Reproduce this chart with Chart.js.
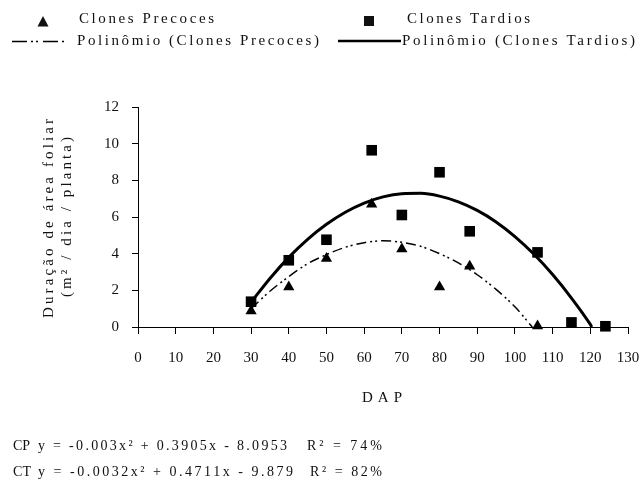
<!DOCTYPE html>
<html>
<head>
<meta charset="utf-8">
<script src="https://cdn.jsdelivr.net/npm/chart.js@4"></script>
<style>
  body { margin: 0; background: #fff; }
  canvas { display: block; }
</style>
</head>
<body>
<canvas id="daf" width="640" height="485"></canvas>
<script>
// Observed points (DAP, duração de área foliar)
const dapPrecoces = [30, 40, 50, 62, 70, 80, 88, 106];
const dafPrecoces = [0.87, 2.18, 3.73, 6.69, 4.25, 2.18, 3.31, 0.05];
const dapTardios = [30, 40, 50, 62, 70, 80, 88, 106, 115, 124];
const dafTardios = [1.38, 3.64, 4.76, 9.64, 6.11, 8.44, 5.22, 4.07, 0.25, 0.04];

// Trend curves
const curveCpX = [30, 35, 40, 45, 50, 55, 60, 65, 70, 75, 80, 85, 90, 95, 100, 104.6];
const curveCpY = [1.0, 1.95, 2.75, 3.45, 3.95, 4.35, 4.6, 4.7, 4.62, 4.4, 4.0, 3.5, 2.85, 2.05, 1.1, 0];
const curveCtX = [30, 35, 40, 45, 50, 55, 60, 65, 70, 75, 80, 85, 90, 95, 100, 105, 110, 115, 120, 120.4];
const curveCtY = [1.35, 2.65, 3.8, 4.78, 5.6, 6.26, 6.76, 7.1, 7.27, 7.29, 7.14, 6.83, 6.36, 5.73, 4.93, 3.98, 2.86, 1.58, 0.14, 0];

const xTicks = { min: 0, max: 130, step: 10 };
const yTicks = { min: 0, max: 12, step: 2 };

const FONT = '"Liberation Serif", "Times New Roman", serif';

function toPoints(xs, ys) {
  return xs.map((x, i) => ({ x: x, y: ys[i] }));
}

// draw text stretched between x1 and x2 (the old bitmap font is widely spaced)
function spreadText(ctx, text, x1, x2, y, size) {
  ctx.font = size + 'px ' + FONT;
  ctx.letterSpacing = '0px';
  const w = ctx.measureText(text).width;
  const n = Array.from(text).length;
  const ls = n > 1 ? (x2 - x1 - w) / (n - 1) : 0;
  ctx.letterSpacing = ls + 'px';
  ctx.textAlign = 'left';
  ctx.textBaseline = 'middle';
  ctx.fillText(text, x1, y);
  ctx.letterSpacing = '0px';
}

function spreadTextUp(ctx, text, cx, yTop, yBottom, size) {
  ctx.save();
  ctx.translate(cx, (yTop + yBottom) / 2);
  ctx.rotate(-Math.PI / 2);
  const half = (yBottom - yTop) / 2;
  spreadText(ctx, text, -half, half, 0, size);
  ctx.restore();
}

const textPlugin = {
  id: 'textPlugin',
  afterDraw(chart) {
    const ctx = chart.ctx;
    ctx.save();
    ctx.fillStyle = '#111';
    ctx.strokeStyle = '#000';

    // legend row 1
    ctx.beginPath();
    ctx.moveTo(43, 16);
    ctx.lineTo(48.5, 26.5);
    ctx.lineTo(37.5, 26.5);
    ctx.closePath();
    ctx.fill();
    spreadText(ctx, 'Clones Precoces', 79, 214, 19, 15);
    ctx.fillRect(364, 16, 10, 10);
    spreadText(ctx, 'Clones Tardios', 407, 530, 19, 15);

    // legend row 2
    ctx.lineWidth = 1.5;
    ctx.setLineDash([15, 4, 2, 3, 2, 5]);
    ctx.beginPath();
    ctx.moveTo(12, 41.5);
    ctx.lineTo(64, 41.5);
    ctx.stroke();
    ctx.setLineDash([]);
    spreadText(ctx, 'Polinômio (Clones Precoces)', 77, 319, 41, 15);
    ctx.lineWidth = 2.5;
    ctx.beginPath();
    ctx.moveTo(338, 41);
    ctx.lineTo(401, 41);
    ctx.stroke();
    spreadText(ctx, 'Polinômio (Clones Tardios)', 402, 635, 41, 15);

    // axis titles
    spreadTextUp(ctx, 'Duração de área foliar', 49, 119, 318, 15);
    spreadTextUp(ctx, '(m² / dia / planta)', 67, 137, 297, 15);
    spreadText(ctx, 'DAP', 362, 402, 398, 15);

    // equations
    spreadText(ctx, 'CP', 13, 30, 446, 14);
    spreadText(ctx, 'y = -0.003x² + 0.3905x - 8.0953', 38, 287, 446, 14);
    spreadText(ctx, 'R² = 74%', 307, 382, 446, 14);
    spreadText(ctx, 'CT', 13, 31, 472, 14);
    spreadText(ctx, 'y = -0.0032x² + 0.4711x - 9.879', 38, 293, 472, 14);
    spreadText(ctx, 'R² = 82%', 310, 382, 472, 14);
    ctx.restore();
  }
};

const ctx = document.getElementById('daf').getContext('2d');

new Chart(ctx, {
  type: 'scatter',
  data: {
    datasets: [
      {
        label: 'Clones Precoces',
        data: toPoints(dapPrecoces, dafPrecoces),
        pointStyle: 'triangle',
        pointRadius: 6.5,
        backgroundColor: '#000',
        borderColor: '#000',
        borderWidth: 0,
        clip: false
      },
      {
        label: 'Clones Tardios',
        data: toPoints(dapTardios, dafTardios),
        pointStyle: 'rect',
        pointRadius: 7.5,
        backgroundColor: '#000',
        borderColor: '#000',
        borderWidth: 0,
        clip: false
      },
      {
        label: 'Polinômio (Clones Precoces)',
        data: toPoints(curveCpX, curveCpY),
        showLine: true,
        pointRadius: 0,
        borderColor: '#000',
        borderWidth: 1.5,
        borderDash: [10, 4, 2, 3, 2, 4],
        cubicInterpolationMode: 'monotone',
        fill: false,
        clip: false
      },
      {
        label: 'Polinômio (Clones Tardios)',
        data: toPoints(curveCtX, curveCtY),
        showLine: true,
        pointRadius: 0,
        borderColor: '#000',
        borderWidth: 3,
        cubicInterpolationMode: 'monotone',
        fill: false,
        clip: false
      }
    ]
  },
  options: {
    responsive: false,
    animation: false,
    layout: { padding: { top: 107, right: 12, left: 0, bottom: 0 } },
    plugins: {
      legend: { display: false },
      tooltip: { enabled: false }
    },
    scales: {
      x: {
        type: 'linear',
        min: xTicks.min,
        max: xTicks.max,
        afterFit: scale => {
          scale.height = 158;
          scale.paddingLeft = 0;
          scale.paddingRight = 0;
        },
        ticks: {
          stepSize: xTicks.step,
          padding: 15,
          color: '#111',
          font: { family: FONT, size: 15 }
        },
        grid: { drawOnChartArea: false, drawTicks: true, tickLength: 7, color: '#000' },
        border: { color: '#000', width: 1 }
      },
      y: {
        min: yTicks.min,
        max: yTicks.max,
        afterFit: scale => {
          scale.width = 138;
          scale.paddingTop = 0;
          scale.paddingBottom = 0;
        },
        ticks: {
          stepSize: yTicks.step,
          padding: 13,
          color: '#111',
          font: { family: FONT, size: 15 }
        },
        grid: { drawOnChartArea: false, drawTicks: true, tickLength: 6, color: '#000' },
        border: { color: '#000', width: 1 }
      }
    }
  },
  plugins: [textPlugin]
});
</script>
</body>
</html>
